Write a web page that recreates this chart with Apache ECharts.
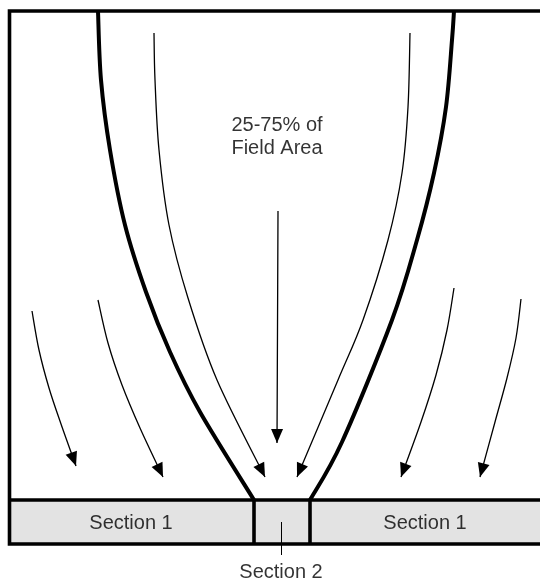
<!DOCTYPE html>
<html>
<head>
<meta charset="utf-8">
<script src="https://cdn.jsdelivr.net/npm/echarts@6/dist/echarts.min.js"></script>
<style>
  html, body { margin: 0; padding: 0; background: #ffffff; }
  #chart { width: 540px; height: 584px; }
</style>
</head>
<body>
<div id="chart"></div>
<script>
// ---- Diagram data (coordinates on a 540 x 584 value plane, y downward) ----
const boxOutline = [[560, 11], [9.5, 11], [9.5, 544], [560, 544]];
const stripTop = [[9.5, 500], [560, 500]];
const stripFill = [[9.5, 500, 560, 544]];
const dividerLeft = [[254, 500], [254, 544]];
const dividerRight = [[310, 500], [310, 544]];
const section2Tick = [[281.5, 522], [281.5, 555]];

const funnelLeft = [[98, 11], [101, 80], [110, 150], [125, 225], [146, 292], [170, 352], [200, 412], [254, 500]];
const funnelRight = [[454, 11], [452, 40], [446, 107], [434, 173], [417, 240], [392, 320], [342, 442], [310, 500]];

const arrowInnerLeft = [[154, 33], [155, 80], [159, 150], [169, 225], [188, 298], [217, 380], [265, 477]];
const arrowInnerRight = [[410, 33], [408, 107], [402, 173], [388, 240], [363, 320], [338, 380], [297, 477]];
const arrowCenter = [[278, 211], [277.5, 330], [277, 443]];
const arrowA = [[32, 311], [39, 350], [49, 388], [61, 424], [76, 466]];
const arrowB = [[98, 300], [108, 343], [122, 385], [140, 428], [163, 477]];
const arrowC = [[454, 288], [447, 330], [436, 375], [421, 422], [401, 477]];
const arrowD = [[521, 299], [516, 338], [507, 378], [495, 422], [480, 477]];

const textLabels = [
  ['25-75% of', 277, 125],
  ['Field Area', 277, 148],
  ['Section 1', 131, 523],
  ['Section 1', 425, 523],
  ['Section 2', 281, 572]
];

// ---- Build series ----
function lineSeries(points, width) {
  return {
    type: 'line',
    data: points,
    symbol: 'none',
    silent: true,
    clip: true,
    lineStyle: { color: '#000000', width: width, cap: 'butt', join: 'miter' },
    z: 3
  };
}

const curves = [
  { pts: funnelLeft, w: 4 },
  { pts: funnelRight, w: 4 },
  { pts: arrowInnerLeft, w: 1.3 },
  { pts: arrowInnerRight, w: 1.3 },
  { pts: arrowCenter, w: 1.3 },
  { pts: arrowA, w: 1.3 },
  { pts: arrowB, w: 1.3 },
  { pts: arrowC, w: 1.3 },
  { pts: arrowD, w: 1.3 }
];
const arrows = [arrowInnerLeft, arrowInnerRight, arrowCenter, arrowA, arrowB, arrowC, arrowD];
const headData = arrows.map(function (a) {
  const tip = a[a.length - 1], prev = a[a.length - 2];
  return [tip[0], tip[1], prev[0], prev[1]];
});

function splinePathData(p) {
  let d = 'M' + p[0][0] + ' ' + p[0][1];
  for (let i = 0; i < p.length - 1; i++) {
    const p0 = p[i - 1] || p[i], p1 = p[i], p2 = p[i + 1], p3 = p[i + 2] || p[i + 1];
    const c1 = [p1[0] + (p2[0] - p0[0]) / 6, p1[1] + (p2[1] - p0[1]) / 6];
    const c2 = [p2[0] - (p3[0] - p1[0]) / 6, p2[1] - (p3[1] - p1[1]) / 6];
    d += ' C' + c1[0] + ' ' + c1[1] + ' ' + c2[0] + ' ' + c2[1] + ' ' + p2[0] + ' ' + p2[1];
  }
  return d;
}

const series = [];
series.push({
  type: 'custom',
  silent: true,
  z: 1,
  data: stripFill,
  encode: { x: [0, 2], y: [1, 3] },
  renderItem: function (params, api) {
    const p0 = api.coord([api.value(0), api.value(1)]);
    const p1 = api.coord([api.value(2), api.value(3)]);
    return {
      type: 'rect',
      shape: { x: p0[0], y: p0[1], width: p1[0] - p0[0], height: p1[1] - p0[1] },
      style: { fill: '#e3e3e3' }
    };
  }
});
series.push(lineSeries(boxOutline, 3.6));
series.push(lineSeries(stripTop, 3.6));
series.push(lineSeries(dividerLeft, 3.6));
series.push(lineSeries(dividerRight, 3.6));
series.push(lineSeries(section2Tick, 1));
series.push({
  type: 'custom',
  silent: true,
  z: 4,
  data: curves.map(function (c) { return [c.pts[0][0], c.pts[0][1]]; }),
  encode: { x: 0, y: 1 },
  renderItem: function (params, api) {
    const c = curves[params.dataIndex];
    const px = c.pts.map(function (q) { return api.coord(q); });
    return {
      type: 'path',
      shape: { pathData: splinePathData(px) },
      style: { fill: 'none', stroke: '#000000', lineWidth: c.w, lineCap: 'butt' }
    };
  }
});
series.push({
  type: 'custom',
  silent: true,
  z: 5,
  data: headData,
  encode: { x: [0, 2], y: [1, 3] },
  renderItem: function (params, api) {
    const tip = api.coord([api.value(0), api.value(1)]);
    const from = api.coord([api.value(2), api.value(3)]);
    let dx = tip[0] - from[0], dy = tip[1] - from[1];
    const len = Math.sqrt(dx * dx + dy * dy);
    dx /= len; dy /= len;
    const L = 14, W = 12;
    const bx = tip[0] - dx * L, by = tip[1] - dy * L;
    const nx = -dy, ny = dx;
    return {
      type: 'polygon',
      shape: { points: [[tip[0], tip[1]], [bx + nx * W / 2, by + ny * W / 2], [bx - nx * W / 2, by - ny * W / 2]] },
      style: { fill: '#000000' }
    };
  }
});
series.push({
  type: 'scatter',
  silent: true,
  z: 6,
  symbolSize: 0,
  data: textLabels.map(function (t) { return { name: t[0], value: [t[1], t[2]] }; }),
  label: {
    show: true,
    position: 'inside',
    formatter: function (p) { return p.name; },
    fontFamily: 'Liberation Sans, Arial, sans-serif',
    fontSize: 20,
    color: '#000000',
    align: 'center',
    verticalAlign: 'middle'
  }
});

const chart = echarts.init(document.getElementById('chart'), null, { renderer: 'canvas' });
chart.setOption({
  animation: false,
  backgroundColor: '#ffffff',
  grid: { left: 0, right: 0, top: 0, bottom: 0 },
  xAxis: { type: 'value', min: 0, max: 540, show: false },
  yAxis: { type: 'value', min: 0, max: 584, inverse: true, show: false },
  series: series
});
</script>
</body>
</html>
